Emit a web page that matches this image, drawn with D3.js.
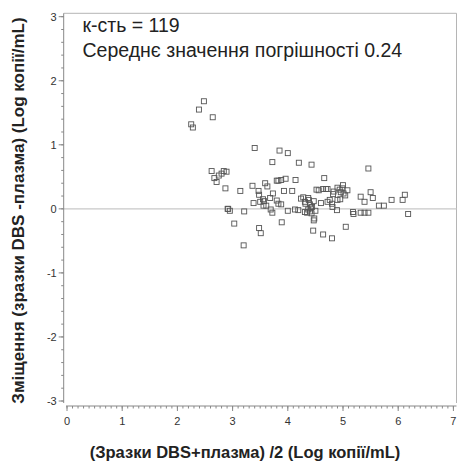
<!DOCTYPE html>
<html>
<head>
<meta charset="utf-8">
<script src="https://cdn.jsdelivr.net/npm/d3@7/dist/d3.min.js"></script>
<style>
  html, body { margin: 0; padding: 0; background: #fff; }
  svg { display: block; font-family: "Liberation Sans", Arial, sans-serif; }
</style>
</head>
<body>
<svg id="chart" width="457" height="463"></svg>
<script>
// Mean of DBS and plasma (log copies/mL)
const meanLog = [
  2.25, 2.28, 2.39, 2.48, 2.64, 3.40, 3.85, 4.00, 3.72, 4.20,
  4.43, 5.46, 2.62, 2.67, 2.71, 2.75, 2.80, 2.84, 2.89, 2.87,
  3.14, 3.36, 3.59, 3.63, 3.47, 3.48, 3.73, 3.80, 3.83, 3.88,
  3.96, 3.93, 4.08, 4.14, 4.66, 3.38, 3.50, 3.55, 3.56, 3.61,
  3.68, 3.80, 3.83, 3.88, 3.69, 3.72, 2.91, 2.92, 2.95, 3.21,
  3.03, 3.20, 3.48, 3.51, 3.89, 4.00, 4.13, 4.19, 4.24, 4.28,
  4.31, 4.37, 4.38, 4.40, 4.44, 4.47, 4.31, 4.35, 4.40, 4.42,
  4.50, 4.48, 4.47, 4.46, 4.52, 4.56, 4.60, 4.64, 4.69, 4.72,
  4.72, 4.76, 4.80, 4.81, 4.83, 4.90, 4.94, 4.96, 5.00, 5.01,
  5.04, 5.08, 4.90, 4.95, 4.89, 4.64, 4.80, 5.05, 5.18, 5.19,
  5.32, 5.39, 5.46, 5.32, 5.39, 5.50, 5.54, 5.65, 5.74, 5.88,
  6.08, 6.12, 6.18, 4.37, 4.82, 4.32, 4.43, 3.57, 4.99
];
// Difference DBS − plasma (log copies/mL)
const biasLog = [
  1.32, 1.27, 1.55, 1.68, 1.43, 0.95, 0.91, 0.87, 0.73, 0.72,
  0.69, 0.63, 0.59, 0.48, 0.42, 0.52, 0.55, 0.59, 0.58, 0.32,
  0.28, 0.36, 0.40, 0.35, 0.28, 0.22, 0.24, 0.44, 0.44, 0.45,
  0.47, 0.28, 0.28, 0.45, 0.48, 0.09, 0.11, 0.15, 0.05, 0.05,
  0.17, 0.13, 0.08, 0.07, -0.01, -0.06, 0.00, 0.00, -0.03, -0.04,
  -0.23, -0.57, -0.30, -0.38, -0.21, -0.03, -0.01, -0.02, 0.16, 0.18,
  0.11, 0.17, 0.14, 0.07, 0.03, 0.12, -0.05, -0.06, -0.04, 0.02,
  -0.03, -0.15, -0.18, -0.34, 0.30, 0.29, 0.09, 0.31, 0.31, 0.31,
  0.11, 0.14, 0.08, 0.03, 0.27, 0.33, 0.30, 0.26, 0.37, 0.24,
  0.21, 0.29, 0.14, 0.15, -0.02, -0.40, -0.46, -0.28, -0.05, -0.08,
  -0.06, -0.06, -0.06, 0.19, 0.11, 0.26, 0.17, 0.05, 0.05, 0.14,
  0.14, 0.22, -0.08, -0.01, 0.23, 0.08, -0.07, 0.12, 0.32
];

const xTicks = [0, 1, 2, 3, 4, 5, 6, 7];
const yTicks = [-3, -2, -1, 0, 1, 2, 3];
const xTitle = "(Зразки DBS+плазма) /2 (Log копії/mL)";
const yTitle = "Зміщення (зразки DBS -плазма) (Log копії/mL)";
const noteLines = ["к-сть = 119", "Середнє значення погрішності 0.24"];

const svg = d3.select("#chart");

const x = d3.scaleLinear().domain([0, 7]).range([67, 453.4]);
const y = d3.scaleLinear().domain([-3, 3]).range([401, 16.7]);

const frameLeft = 63.7, frameTop = 13.3, frameRight = 456.5, frameBottom = 406;

// Frame: light top and right edges
svg.append("path")
  .attr("d", `M${frameLeft},${frameTop}H${frameRight}V${frameBottom - 3}`)
  .attr("fill", "none").attr("stroke", "#b5b5b5").attr("stroke-width", 1);

// Zero reference line
svg.append("line")
  .attr("x1", frameLeft).attr("x2", frameRight)
  .attr("y1", y(0)).attr("y2", y(0))
  .attr("stroke", "#c8c8c8").attr("stroke-width", 1.2);

// Y axis with minor ticks every 0.2
const yAxisG = svg.append("g").attr("transform", `translate(${frameLeft},0)`);
yAxisG.append("line")
  .attr("x1", 0).attr("x2", 0).attr("y1", frameTop).attr("y2", 403)
  .attr("stroke", "#888");
const yMinor = d3.range(-3, 3.001, 0.2).map(v => +v.toFixed(1));
yAxisG.selectAll("line.minor").data(yMinor).join("line")
  .attr("class", "minor")
  .attr("x1", -2.5).attr("x2", 0)
  .attr("y1", d => y(d)).attr("y2", d => y(d))
  .attr("stroke", "#888");
yAxisG.selectAll("line.major").data(yTicks).join("line")
  .attr("class", "major")
  .attr("x1", -5).attr("x2", 0)
  .attr("y1", d => y(d)).attr("y2", d => y(d))
  .attr("stroke", "#888");
yAxisG.selectAll("text").data(yTicks).join("text")
  .attr("x", -7).attr("y", d => y(d))
  .attr("dy", "0.35em").attr("text-anchor", "end")
  .attr("font-size", 11).attr("fill", "#333")
  .text(d => d);

// X axis with minor ticks every 0.1
const xAxisG = svg.append("g").attr("transform", `translate(0,${frameBottom})`);
xAxisG.append("line")
  .attr("x1", 66).attr("x2", frameRight).attr("y1", 0).attr("y2", 0)
  .attr("stroke", "#888");
const xMinor = d3.range(0, 7.001, 0.1).map(v => +v.toFixed(1));
xAxisG.selectAll("line.minor").data(xMinor).join("line")
  .attr("class", "minor")
  .attr("x1", d => x(d)).attr("x2", d => x(d))
  .attr("y1", 0).attr("y2", 2.5)
  .attr("stroke", "#888");
xAxisG.selectAll("line.major").data(xTicks).join("line")
  .attr("class", "major")
  .attr("x1", d => x(d)).attr("x2", d => x(d))
  .attr("y1", 0).attr("y2", 5)
  .attr("stroke", "#888");
xAxisG.selectAll("text").data(xTicks).join("text")
  .attr("x", d => x(d)).attr("y", 18.5)
  .attr("text-anchor", "middle")
  .attr("font-size", 11).attr("fill", "#333")
  .text(d => d);

// Data points: open squares
const s = 5;
svg.append("g").selectAll("rect").data(meanLog.map((m, i) => [m, biasLog[i]])).join("rect")
  .attr("x", d => x(d[0]) - s / 2)
  .attr("y", d => y(d[1]) - s / 2)
  .attr("width", s).attr("height", s)
  .attr("fill", "none").attr("stroke", "#555").attr("stroke-width", 0.9);

// Annotation
svg.append("g").selectAll("text").data(noteLines).join("text")
  .attr("x", 82.5).attr("y", (d, i) => 32 + i * 24.5)
  .attr("font-size", 19.5).attr("fill", "#222")
  .text(d => d);

// Axis titles
svg.append("text")
  .attr("x", 245).attr("y", 458)
  .attr("text-anchor", "middle")
  .attr("font-size", 16.5).attr("font-weight", "bold").attr("fill", "#222")
  .text(xTitle);
svg.append("text")
  .attr("transform", `translate(24,210.5) rotate(-90)`)
  .attr("text-anchor", "middle")
  .attr("font-size", 17).attr("font-weight", "bold").attr("fill", "#222")
  .text(yTitle);
</script>
</body>
</html>
